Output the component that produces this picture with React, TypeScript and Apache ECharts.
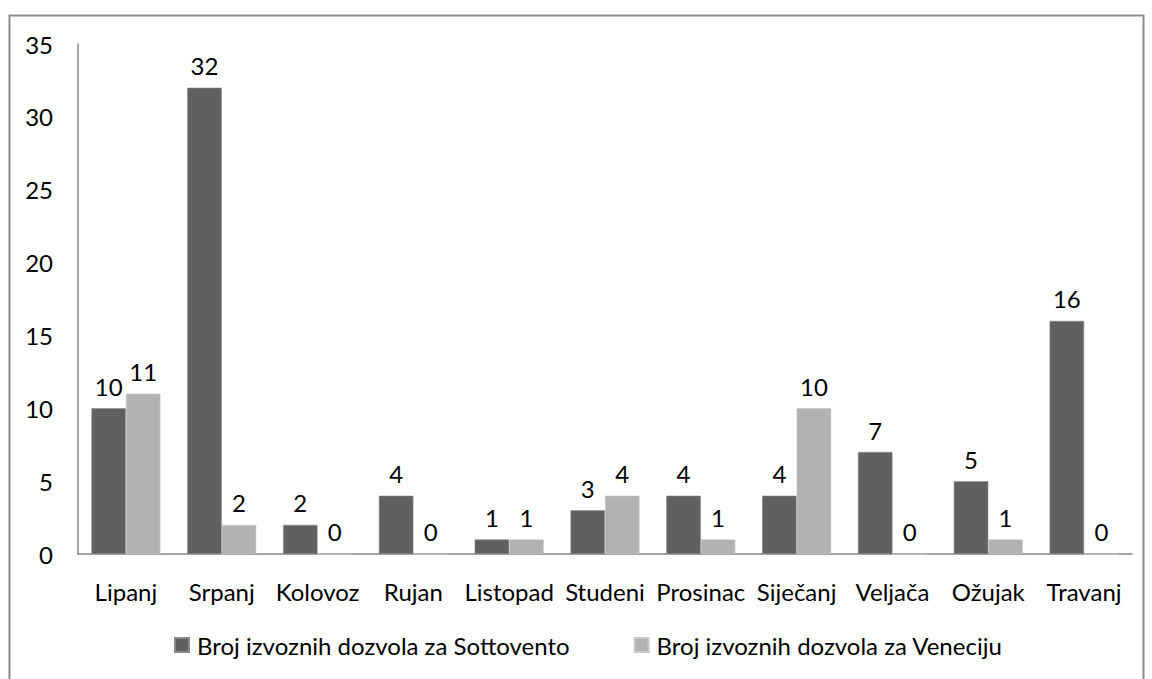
import React, { useEffect, useRef } from "react";
import * as echarts from "echarts";

const categories = ["Lipanj", "Srpanj", "Kolovoz", "Rujan", "Listopad", "Studeni", "Prosinac", "Siječanj", "Veljača", "Ožujak", "Travanj"];
const sottovento = [10, 32, 2, 4, 1, 3, 4, 4, 7, 5, 16];
const venecija = [11, 2, 0, 0, 1, 4, 1, 10, 0, 1, 0];
const seriesNames = ["Broj izvoznih dozvola za Sottovento", "Broj izvoznih dozvola za Veneciju"];
const yTicks = { min: 0, max: 35, interval: 5 };

const FONT = "Lato";
const FS = 24;

export default function App() {
  const ref = useRef<HTMLDivElement>(null);
  useEffect(() => {
    const chart = echarts.init(ref.current!, null, { renderer: "svg" });
    const label = {
      show: true,
      position: "top" as const,
      distance: 10,
      color: "#000",
      fontSize: FS,
      fontFamily: FONT,
    };
    chart.setOption({
      animation: false,
      backgroundColor: "#fff",
      textStyle: { fontFamily: FONT },
      graphic: [
        {
          type: "rect",
          shape: { x: 9.5, y: 15.5, width: 1134, height: 720 },
          style: { fill: "none", stroke: "#8c8c8c", lineWidth: 2 },
          silent: true,
        },
      ],
      grid: { left: 78, right: 20, top: 44, bottom: 125, containLabel: false },
      legend: {
        top: 628,
        left: 169,
        itemWidth: 14,
        itemHeight: 14,
        itemGap: 64,
        icon: "rect",
        textStyle: { fontSize: FS, color: "#000", fontFamily: FONT, padding: [0, 0, 0, 3] },
      },
      xAxis: {
        type: "category",
        data: categories,
        axisLine: { lineStyle: { color: "#868686", width: 1.5 } },
        axisTick: { show: false },
        axisLabel: { color: "#000", fontSize: FS, margin: 25, fontFamily: FONT, interval: 0 },
      },
      yAxis: {
        type: "value",
        min: yTicks.min,
        max: yTicks.max,
        interval: yTicks.interval,
        splitLine: { show: false },
        axisLine: { show: true, lineStyle: { color: "#868686", width: 1.5 } },
        axisTick: { show: false },
        axisLabel: { color: "#000", fontSize: FS, margin: 25, fontFamily: FONT },
      },
      series: [
        {
          name: seriesNames[0],
          type: "bar",
          data: sottovento,
          barWidth: 34.5,
          barGap: "0%",
          itemStyle: { color: "#606060", borderColor: "#8a8a8a", borderWidth: 0.6 },
          label,
        },
        {
          name: seriesNames[1],
          type: "bar",
          data: venecija,
          barWidth: 34.5,
          barGap: "0%",
          itemStyle: { color: "#b2b2b2", borderColor: "#c8c8c8", borderWidth: 0.6 },
          label,
        },
      ],
    });
    return () => chart.dispose();
  }, []);
  return (
    <div
      ref={ref}
      style={{ position: "fixed", left: 0, top: 0, width: 1152, height: 679 }}
    />
  );
}
